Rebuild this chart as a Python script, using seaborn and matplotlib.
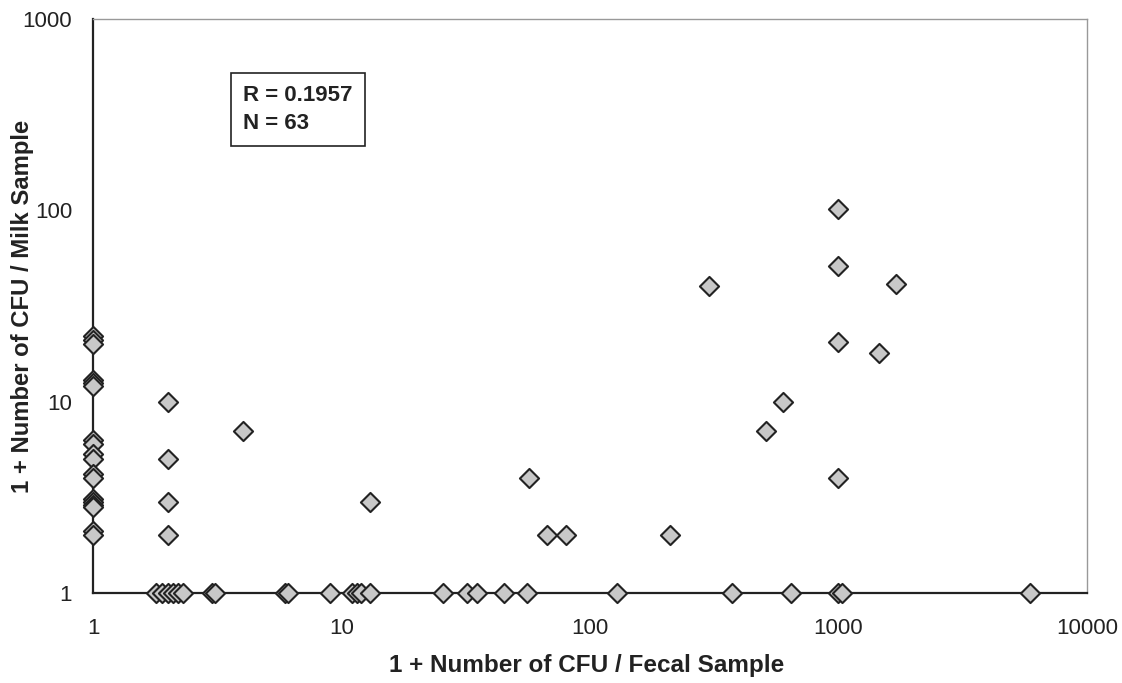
import numpy as np
import pandas as pd
import seaborn as sns
import matplotlib.pyplot as plt
from matplotlib.ticker import FixedLocator, FixedFormatter, NullLocator

# values (1 + CFU counts)
fecal_left = [1] * 18
milk_left = [22, 21, 20, 13, 12.5, 12, 6.3, 6, 5.3, 5, 4.2, 4, 3.1, 3, 2.9, 2.8, 2.1, 2]

fecal_mid = [2, 2, 2, 2, 4, 13, 57, 67, 80, 210, 300,
             1000, 1000, 1000, 1000, 1700, 1450, 600, 510]
milk_mid = [10, 5, 3, 2, 7, 3, 4, 2, 2, 2, 40,
            101, 51, 20.5, 4, 41, 18, 10, 7]

fecal_base = [1.8, 1.9, 2.0, 2.1, 2.2, 2.3, 3.0, 3.1, 5.9, 6.1, 9.0,
              11, 11.5, 12, 13, 25.6, 32, 35, 45, 56, 128,
              373, 644, 1000, 1030, 5900]
milk_base = [1] * len(fecal_base)

x_ticks = [1, 10, 100, 1000, 10000]
y_ticks = [1, 10, 100, 1000]

df = pd.DataFrame({
    "fecal": fecal_left + fecal_mid + fecal_base,
    "milk": milk_left + milk_mid + milk_base,
})

sns.set_style("white")
plt.rcParams["font.family"] = ["Liberation Sans", "DejaVu Sans"]

fig = plt.figure(figsize=(11.22, 6.83), dpi=100)
ax = fig.add_axes([0.0829, 0.1318, 0.8859, 0.8404])

sns.scatterplot(data=df, x="fecal", y="milk", marker="D", s=95,
                color="#c8c8c8", edgecolor="#222222", linewidth=1.5,
                ax=ax, clip_on=False, zorder=3)

ax.set_xscale("log")
ax.set_yscale("log")
ax.set_xlim(1, 10000)
ax.set_ylim(1, 1000)

ax.xaxis.set_major_locator(FixedLocator(x_ticks))
ax.xaxis.set_major_formatter(FixedFormatter([str(v) for v in x_ticks]))
ax.yaxis.set_major_locator(FixedLocator(y_ticks))
ax.yaxis.set_major_formatter(FixedFormatter([str(v) for v in y_ticks]))
ax.xaxis.set_minor_locator(NullLocator())
ax.yaxis.set_minor_locator(NullLocator())
ax.tick_params(axis="both", direction="out", length=6, width=1.3,
               labelsize=16, colors="#222222")
ax.tick_params(axis="x", pad=12)
ax.tick_params(axis="y", pad=9)

for side in ["left", "bottom"]:
    ax.spines[side].set_color("#222222")
    ax.spines[side].set_linewidth(1.6)
for side in ["top", "right"]:
    ax.spines[side].set_color("#999999")
    ax.spines[side].set_linewidth(1.0)

ax.set_xlabel("1 + Number of CFU / Fecal Sample", fontsize=17.5,
              fontweight="bold", color="#222222")
ax.xaxis.set_label_coords(0.497, -0.107)
ax.set_ylabel("1 + Number of CFU / Milk Sample", fontsize=17.2,
              fontweight="bold", color="#222222")
ax.yaxis.set_label_coords(-0.059, 0.5)

ax.text(0.151, 0.885, "R = 0.1957\nN = 63", transform=ax.transAxes,
        fontsize=16, fontweight="bold", va="top", ha="left", linespacing=1.45,
        color="#222222",
        bbox=dict(boxstyle="square,pad=0.55", facecolor="white",
                  edgecolor="#222222", linewidth=1.2))

fig.savefig("out.png", dpi=100)
